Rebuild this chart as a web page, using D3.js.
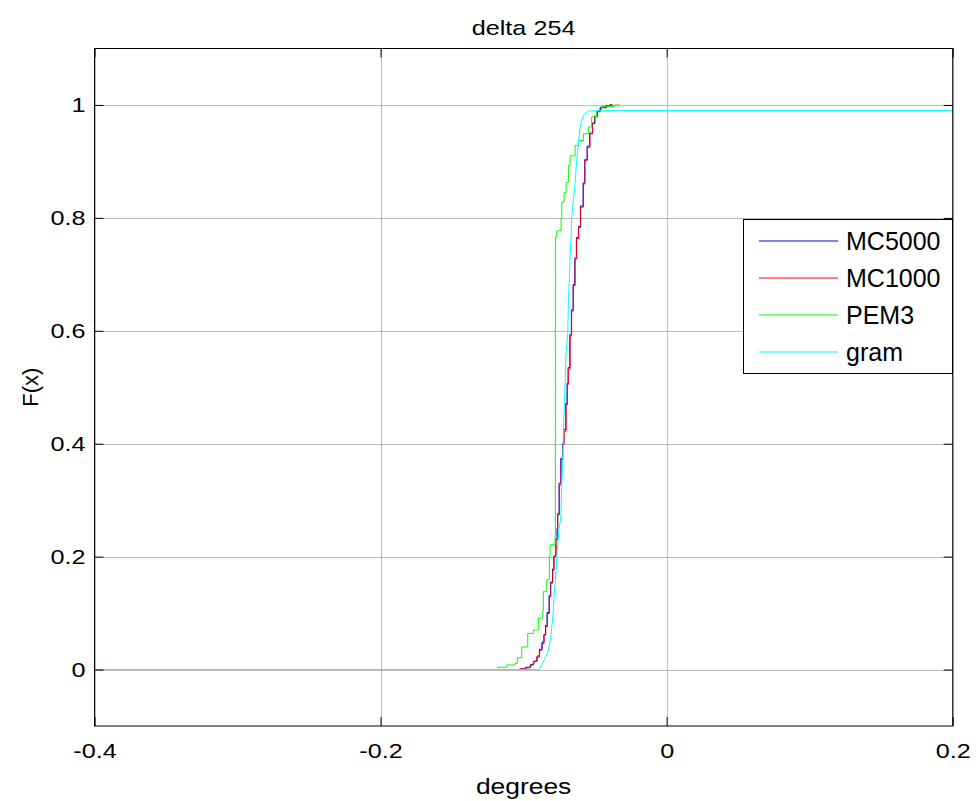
<!DOCTYPE html>
<html><head><meta charset="utf-8">
<script src="https://cdn.jsdelivr.net/npm/d3@7"></script>
<style>
body{margin:0;background:#fff}
text{font-family:"Liberation Sans",Arial,sans-serif;fill:#000}
</style>
</head><body>
<svg id="c" width="976" height="801"></svg>
<script>
const chartTitle = "delta 254";
const xLabel = "degrees";
const yLabel = "F(x)";
const xTicks = [-0.4, -0.2, 0, 0.2];
const yTicks = [0, 0.2, 0.4, 0.6, 0.8, 1];
const seriesNames = ["MC5000", "MC1000", "PEM3", "gram"];
const seriesColors = ["#0000ff", "#ff0000", "#00ff00", "#00ffff"];

const mc5000X = [-0.1030,-0.0985,-0.0950,-0.0928,-0.0905,-0.0888,-0.0870,-0.0858,-0.0847,-0.0836,-0.0822,-0.0812,-0.0798,-0.0789,-0.0775,-0.0766,-0.0762,-0.0752,-0.0740,-0.0728,-0.0719,-0.0705,-0.0696,-0.0689,-0.0677,-0.0666,-0.0654,-0.0642,-0.0631,-0.0617,-0.0603,-0.0584,-0.0573,-0.0556,-0.0538,-0.0519,-0.0503,-0.0483,-0.0462,-0.0425,-0.0395,-0.0380];
const mc5000F = [0.001,0.004,0.009,0.015,0.024,0.036,0.049,0.062,0.078,0.101,0.131,0.155,0.178,0.201,0.231,0.250,0.276,0.330,0.374,0.400,0.425,0.471,0.507,0.535,0.593,0.637,0.682,0.729,0.765,0.785,0.821,0.862,0.903,0.927,0.950,0.968,0.980,0.989,0.996,0.999,1.000,1.000];

const mc1000X = [-0.1025,-0.0990,-0.0955,-0.0932,-0.0908,-0.0890,-0.0873,-0.0857,-0.0845,-0.0834,-0.0820,-0.0810,-0.0796,-0.0787,-0.0773,-0.0764,-0.0761,-0.0750,-0.0738,-0.0726,-0.0717,-0.0703,-0.0694,-0.0687,-0.0675,-0.0664,-0.0652,-0.0640,-0.0629,-0.0615,-0.0601,-0.0582,-0.0571,-0.0554,-0.0536,-0.0517,-0.0501,-0.0485,-0.0466,-0.0419,-0.0400,-0.0375];
const mc1000F = [0.001,0.003,0.008,0.014,0.022,0.034,0.046,0.061,0.076,0.099,0.129,0.153,0.176,0.200,0.230,0.247,0.274,0.327,0.372,0.398,0.422,0.469,0.505,0.532,0.591,0.635,0.680,0.727,0.763,0.783,0.819,0.860,0.902,0.925,0.949,0.967,0.979,0.988,0.995,0.999,1.000,1.000];

const pem3X = [-0.1184,-0.1118,-0.1060,-0.1044,-0.1013,-0.0971,-0.0932,-0.0897,-0.0866,-0.0862,-0.0838,-0.0820,-0.0815,-0.0780,-0.0778,-0.0768,-0.0738,-0.0733,-0.0717,-0.0703,-0.0687,-0.0675,-0.0640,-0.0617,-0.0582,-0.0547,-0.0524,-0.0489,-0.0454,-0.0361,-0.0326];
const pem3F = [0.004,0.008,0.011,0.021,0.040,0.064,0.070,0.091,0.105,0.138,0.159,0.200,0.221,0.239,0.766,0.777,0.798,0.828,0.845,0.863,0.893,0.910,0.928,0.937,0.949,0.961,0.979,0.990,0.9975,1.000,1.000];

const gramX = [-0.4000,-0.0890,-0.0850,-0.0827,-0.0810,-0.0796,-0.0787,-0.0773,-0.0764,-0.0754,-0.0740,-0.0733,-0.0726,-0.0722,-0.0717,-0.0710,-0.0705,-0.0691,-0.0687,-0.0680,-0.0675,-0.0668,-0.0664,-0.0640,-0.0629,-0.0617,-0.0605,-0.0582,-0.0547,-0.0489,0.2000];
const gramF = [0.000,0.000,0.020,0.034,0.058,0.093,0.129,0.176,0.212,0.247,0.268,0.327,0.375,0.416,0.458,0.505,0.555,0.597,0.650,0.691,0.733,0.763,0.801,0.860,0.902,0.931,0.961,0.982,0.989,0.990,0.990];

const svg = d3.select("#c");
const L = 94.5, R = 952.7, T = 48.5, B = 726;
const x = d3.scaleLinear().domain([-0.4, 0.2]).range([L, R]);
const y = d3.scaleLinear().domain([-0.1, 1.1]).range([B, T]);

function stretch(sel, k){
  sel.each(function(){
    const l = this.getComputedTextLength();
    if (l > 0) { this.setAttribute("textLength", l*k); this.setAttribute("lengthAdjust","spacingAndGlyphs"); }
  });
}

svg.append("defs").append("clipPath").attr("id","clip")
  .append("rect").attr("x",L).attr("y",T).attr("width",R-L).attr("height",B-T);

// grid
const grid = svg.append("g").attr("stroke","#7a7a7a").attr("stroke-width",1).attr("stroke-dasharray","1,1");
grid.selectAll(".gx").data(xTicks).join("line")
  .attr("x1",d=>Math.round(x(d))+0.5).attr("x2",d=>Math.round(x(d))+0.5).attr("y1",T).attr("y2",B);
grid.selectAll(".gy").data(yTicks).join("line")
  .attr("y1",d=>Math.round(y(d))+0.5).attr("y2",d=>Math.round(y(d))+0.5).attr("x1",L).attr("x2",R);

// series
const zip = (xs, fs) => xs.map((v,i)=>[v, fs[i]]);
const data = [zip(mc5000X, mc5000F), zip(mc1000X, mc1000F), zip(pem3X, pem3F), zip(gramX, gramF)];
const curves = [d3.curveStepAfter, d3.curveStepAfter, d3.curveStepAfter, d3.curveLinear];
const lines = svg.append("g").attr("clip-path","url(#clip)");
data.forEach((d,i)=>{
  const gen = d3.line().x(p=>x(p[0])).y(p=>y(p[1])).curve(curves[i]);
  lines.append("path").attr("d",gen(d)).attr("fill","none")
    .attr("stroke",seriesColors[i]).attr("stroke-width",1);
});

// axes
const fmt = d => String(d);
const ax = (g)=>{ g.attr("font-family",null).attr("font-size",null); g.select(".domain").remove();
  g.selectAll("text").style("font-size","21px").attr("fill","#000"); g.selectAll("line").attr("stroke","#000"); };
const gx = svg.append("g").attr("transform",`translate(0,${B})`)
  .call(d3.axisBottom(x).tickValues(xTicks).tickFormat(fmt).tickSize(-9).tickPadding(17)).call(ax);
svg.append("g").attr("transform",`translate(0,${T})`)
  .call(d3.axisTop(x).tickValues(xTicks).tickFormat("").tickSize(-9)).call(ax);
const gy = svg.append("g").attr("transform",`translate(${L},0)`)
  .call(d3.axisLeft(y).tickValues(yTicks).tickFormat(fmt).tickSize(-9).tickPadding(9)).call(ax);
svg.append("g").attr("transform",`translate(${R},0)`)
  .call(d3.axisRight(y).tickValues(yTicks).tickFormat("").tickSize(-9)).call(ax);
stretch(gx.selectAll("text"), 1.2);
stretch(gy.selectAll("text"), 1.2);

// box
svg.append("rect").attr("x",L).attr("y",T).attr("width",R-L).attr("height",B-T)
  .attr("fill","none").attr("stroke","#000").attr("stroke-width",1);

// labels
const tt = svg.append("text").attr("x",(L+R)/2).attr("y",28).attr("text-anchor","middle").attr("dy","0.35em")
  .style("font-size","21px").text(chartTitle);
stretch(tt, 1.2);
const xl = svg.append("text").attr("x",(L+R)/2).attr("y",786).attr("text-anchor","middle").attr("dy","0.35em")
  .style("font-size","22px").text(xLabel);
stretch(xl, 1.2);
const yl = svg.append("text").attr("transform",`translate(30,${(T+B)/2}) rotate(-90)`).attr("text-anchor","middle").attr("dy","0.35em")
  .style("font-size","22px").text(yLabel);

// legend
const lg = svg.append("g");
lg.append("rect").attr("x",743.5).attr("y",219.5).attr("width",209).attr("height",154)
  .attr("fill","#fff").attr("stroke","#000").attr("stroke-width",1);
const rowY = d3.scalePoint().domain(seriesNames).range([241, 352]);
seriesNames.forEach((n,i)=>{
  lg.append("line").attr("x1",759).attr("x2",838).attr("y1",rowY(n)).attr("y2",rowY(n))
    .attr("stroke",seriesColors[i]).attr("stroke-width",1);
  lg.append("text").attr("x",846).attr("y",rowY(n)).attr("dy","0.35em")
    .style("font-size","25px").text(n);
});
</script>
</body></html>
